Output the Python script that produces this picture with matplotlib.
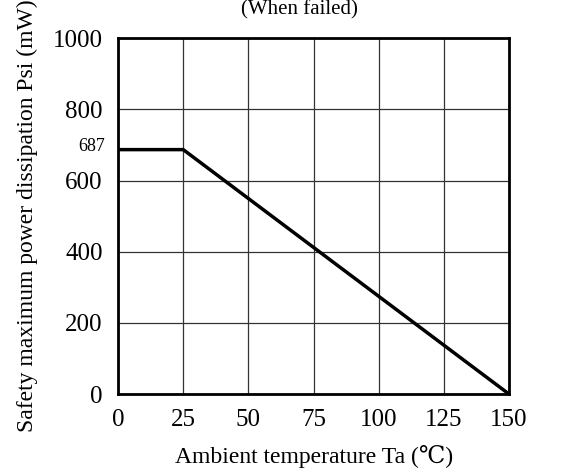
import matplotlib
matplotlib.use("Agg")
import matplotlib.pyplot as plt

temps = [0, 25, 150]
power = [687, 687, 0]
xticks = [0, 25, 50, 75, 100, 125, 150]
yticks = [0, 200, 400, 600, 800, 1000]
marked_value = 687

plt.rcParams['font.family'] = ['Liberation Serif', 'DejaVu Serif']

fig = plt.figure(figsize=(5.65, 4.72), dpi=100)
ax = fig.add_axes([0.209, 0.165, 0.692, 0.754])
ax.set_xlim(0, 150)
ax.set_ylim(0, 1000)
ax.set_xticks(xticks)
ax.set_yticks(yticks)
ax.tick_params(length=0, labelsize=18, pad=11)
ax.grid(True, color='#333333', linewidth=0.9)
ax.set_axisbelow(True)
for s in ax.spines.values():
    s.set_linewidth(2)
ax.plot(temps, power, color='black', linewidth=2.5, solid_capstyle='butt')
ax.text(-5, marked_value + 8, str(marked_value), ha='right', va='center', fontsize=13)
ax.set_xlabel('Ambient temperature Ta (\u2103)', fontsize=17, labelpad=10)
ax.set_ylabel('Safety maximum power dissipation Psi (mW)', fontsize=17, labelpad=11)
fig.text(0.53, 1.0, '(When failed)', ha='center', va='top', fontsize=15)
fig.savefig('out.png', dpi=100)
